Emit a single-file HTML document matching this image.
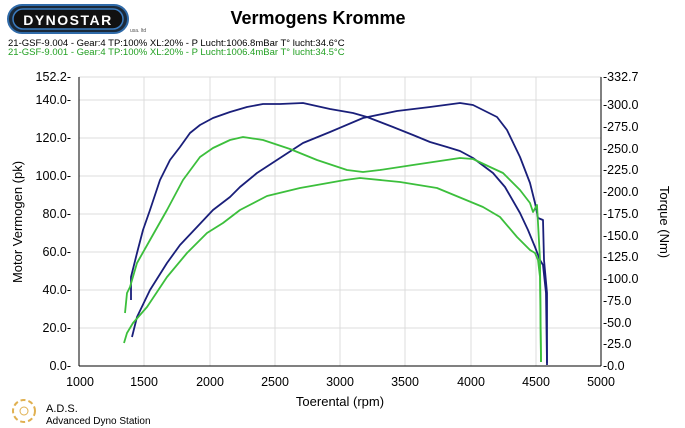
<!DOCTYPE html>
<html><head><style>
body{margin:0;background:#fff;}
svg{display:block;font-family:"Liberation Sans",sans-serif;}
</style></head><body>
<svg width="685" height="428" viewBox="0 0 685 428" xmlns="http://www.w3.org/2000/svg">
<rect width="685" height="428" fill="#fff"/>
<rect x="8" y="5" width="120" height="28" rx="14" fill="#1b2a3a" stroke="#2f6aa8" stroke-width="2"/>
<rect x="13" y="9" width="110" height="20" rx="10" fill="#111" stroke="#3b7cc0" stroke-width="1.5"/>
<text x="68" y="25" font-size="14" font-weight="bold" fill="#fff" text-anchor="middle" letter-spacing="1.5">DYNOSTAR</text>
<text x="130" y="32" font-size="5" fill="#555">usa. ltd</text>
<text x="318" y="24" font-size="18" font-weight="bold" text-anchor="middle" fill="#000">Vermogens Kromme</text>
<text x="8" y="46" font-size="9.5" fill="#000">21-GSF-9.004 - Gear:4 TP:100% XL:20%   - P Lucht:1006.8mBar T° lucht:34.6°C</text>
<text x="8" y="55" font-size="9.5" fill="#22a022">21-GSF-9.001 - Gear:4 TP:100% XL:20%   - P Lucht:1006.4mBar T° lucht:34.5°C</text>
<g stroke="#dcdcdc" stroke-width="1">
<line x1="79" y1="77" x2="601" y2="77"/>
<line x1="79" y1="100" x2="601" y2="100"/><line x1="79" y1="138" x2="601" y2="138"/>
<line x1="79" y1="176" x2="601" y2="176"/><line x1="79" y1="214" x2="601" y2="214"/>
<line x1="79" y1="252" x2="601" y2="252"/><line x1="79" y1="290" x2="601" y2="290"/>
<line x1="79" y1="328" x2="601" y2="328"/>
<line x1="144" y1="77" x2="144" y2="366"/><line x1="210" y1="77" x2="210" y2="366"/>
<line x1="275" y1="77" x2="275" y2="366"/><line x1="340" y1="77" x2="340" y2="366"/>
<line x1="405" y1="77" x2="405" y2="366"/><line x1="471" y1="77" x2="471" y2="366"/>
<line x1="536" y1="77" x2="536" y2="366"/>
</g>
<g stroke="#000" stroke-width="1">
<line x1="79" y1="77" x2="79" y2="366"/><line x1="601" y1="77" x2="601" y2="366"/>
<line x1="79" y1="366" x2="601" y2="366"/>
</g>
<g font-size="12.5" fill="#000" text-anchor="end">
<text x="71" y="81">152.2-</text><text x="71" y="104">140.0-</text><text x="71" y="142">120.0-</text>
<text x="71" y="180">100.0-</text><text x="71" y="218">80.0-</text><text x="71" y="256">60.0-</text>
<text x="71" y="294">40.0-</text><text x="71" y="332">20.0-</text><text x="71" y="370">0.0-</text>
</g>
<g font-size="12.5" fill="#000">
<text x="603" y="81">-332.7</text><text x="603" y="109">-300.0</text><text x="603" y="131">-275.0</text>
<text x="603" y="153">-250.0</text><text x="603" y="174">-225.0</text><text x="603" y="196">-200.0</text>
<text x="603" y="218">-175.0</text><text x="603" y="240">-150.0</text><text x="603" y="261">-125.0</text>
<text x="603" y="283">-100.0</text><text x="603" y="305">-75.0</text><text x="603" y="327">-50.0</text>
<text x="603" y="348">-25.0</text><text x="603" y="370">-0.0</text>
</g>
<g font-size="12.5" fill="#000" text-anchor="middle">
<text x="80" y="386">1000</text><text x="144" y="386">1500</text><text x="210" y="386">2000</text>
<text x="275" y="386">2500</text><text x="340" y="386">3000</text><text x="405" y="386">3500</text>
<text x="471" y="386">4000</text><text x="536" y="386">4500</text><text x="601" y="386">5000</text>
<text x="340" y="406" font-size="13">Toerental (rpm)</text>
</g>
<text transform="translate(22,222) rotate(-90)" font-size="13" text-anchor="middle">Motor Vermogen (pk)</text>
<text transform="translate(660,222) rotate(90)" font-size="13" text-anchor="middle">Torque (Nm)</text>
<g fill="none" stroke-width="1.8" stroke-linejoin="round">
<polyline stroke="#1a1f7a" points="131,300 131,277 137,253 143,230 150,210 160,180 170,160 180,147 190,133 200,125 213,118 230,112 247,107 263,104 280,104 303,103 330,109 353,113 367,117 393,127 413,135 430,142 447,147 460,151 473,158 493,173 505,187 520,213 528,230 535,247 540,260 543,265 546,293 547,363"/>
<polyline stroke="#1a1f7a" points="132,337 137,317 150,290 167,263 180,245 197,227 213,210 230,197 240,187 257,173 280,158 303,143 330,132 363,118 397,111 430,107 460,103 473,105 497,117 507,130 520,157 530,183 535,203 538,218 543,220 544,260 547,293 547,365"/>
<polyline stroke="#3cbf3c" points="125,313 127,293 130,287 137,263 150,240 167,210 183,180 200,157 213,148 230,140 243,137 263,140 290,149 317,160 347,170 363,172 380,170 413,165 460,158 473,159 490,167 503,173 510,180 520,190 530,203 533,212 537,205 538,223 540,260 541,362"/>
<polyline stroke="#3cbf3c" points="124,343 127,333 133,323 147,307 167,277 187,253 207,233 223,223 240,210 267,196 300,188 345,180 360,178 400,182 437,188 483,207 500,217 517,237 530,250 535,253 538,260 540,277 541,362"/>
</g>
<circle cx="24" cy="411" r="11" fill="none" stroke="#e0b050" stroke-width="2" stroke-dasharray="5 3"/>
<circle cx="24" cy="411" r="4" fill="none" stroke="#e0b050" stroke-width="1"/>
<text x="46" y="412" font-size="11" fill="#000">A.D.S.</text>
<text x="46" y="424" font-size="10" fill="#000">Advanced Dyno Station</text>
</svg>
</body></html>
